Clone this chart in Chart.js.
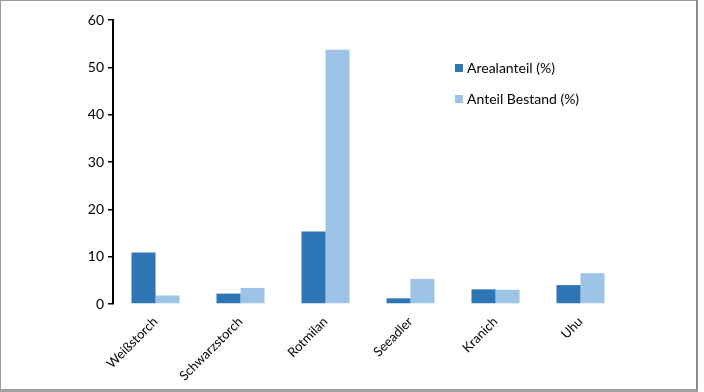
<!DOCTYPE html>
<html>
<head>
<meta charset="utf-8">
<script src="https://cdn.jsdelivr.net/npm/chart.js@4/dist/chart.umd.min.js"></script>
<style>
  html, body { margin: 0; padding: 0; background: #fff; }
  #frame { position: absolute; left: 0; top: 0; width: 695px; height: 388px;
           border-left: 1px solid #9a9a9a; border-top: 1px solid #9a9a9a;
           border-right: 2px solid #8a8a8a; border-bottom: 3px solid #a0a0a0; pointer-events: none; }
  #wrap { position: absolute; left: 0; top: 0; width: 704px; height: 392px; }
</style>
</head>
<body>
<div id="wrap"><canvas id="c" width="704" height="392"></canvas></div>
<div id="frame"></div>
<script>
const categories = ["Weißstorch", "Schwarzstorch", "Rotmilan", "Seeadler", "Kranich", "Uhu"];
const arealanteil = [10.9, 2.2, 15.3, 1.2, 3.1, 4.0];
const anteilBestand = [1.8, 3.4, 53.7, 5.3, 3.0, 6.5];
const seriesLabels = ["Arealanteil (%)", "Anteil Bestand (%)"];
const yTicks = [0, 10, 20, 30, 40, 50, 60];

const FONT = "Lato, 'Open Sans', sans-serif";

const legendPlugin = {
  id: 'customLegend',
  afterDraw(chart) {
    const ctx = chart.ctx;
    ctx.save();
    ctx.font = "14px " + FONT;
    ctx.textBaseline = 'middle';
    const items = chart.data.datasets;
    const x = 455, ys = [68, 99];
    items.forEach((ds, i) => {
      ctx.fillStyle = ds.backgroundColor;
      ctx.fillRect(x, ys[i] - 4, 8, 8);
      ctx.fillStyle = '#000';
      ctx.fillText(ds.label, x + 12, ys[i]);
    });
    ctx.restore();
  }
};

new Chart(document.getElementById('c'), {
  type: 'bar',
  data: {
    labels: categories,
    datasets: [
      { label: seriesLabels[0], data: arealanteil, backgroundColor: '#2E75B6' },
      { label: seriesLabels[1], data: anteilBestand, backgroundColor: '#9DC3E6' }
    ]
  },
  options: {
    responsive: false,
    animation: false,
    devicePixelRatio: 1,
    layout: { padding: { left: 0, right: 81, top: 20, bottom: 0 } },
    datasets: { bar: { categoryPercentage: 0.565, barPercentage: 1.0 } },
    plugins: { legend: { display: false }, tooltip: { enabled: false } },
    scales: {
      x: {
        grid: { display: false },
        border: { display: false },
        ticks: { color: '#000', font: { family: FONT, size: 13 }, minRotation: 45, maxRotation: 45, padding: 2 },
        afterFit(scale) { scale.height = 88; }
      },
      y: {
        min: 0, max: 60,
        afterBuildTicks(scale) { scale.ticks = yTicks.map(v => ({ value: v })); },
        border: { display: true, color: '#000', width: 2 },
        grid: { display: true, drawOnChartArea: false, drawTicks: true, tickLength: 5, color: '#000', lineWidth: 1.5 },
        ticks: { color: '#000', font: { family: FONT, size: 14 }, padding: 4 },
        afterFit(scale) { scale.width = 113; }
      }
    }
  },
  plugins: [legendPlugin]
});
</script>
</body>
</html>
